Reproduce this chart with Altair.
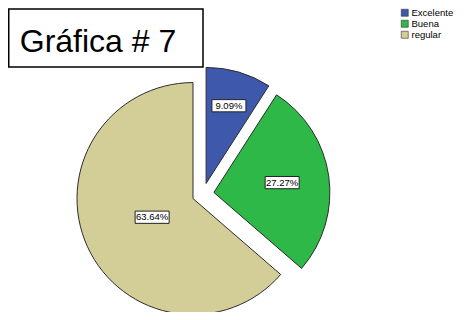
import math
import altair as alt
import pandas as pd

categories = ["Excelente", "Buena", "regular"]
percents = [9.09, 27.27, 63.64]
labels = ["9.09%", "27.27%", "63.64%"]
colors = ["#3E58AC", "#2EB848", "#D3CE97"]
title_text = ["Gráfica # 7"]

df = pd.DataFrame({"cat": categories, "pct": percents, "label": labels,
                   "order": list(range(len(categories)))})

CX, CY = 195.0, 186.0   # pie center (px)
R = 116                 # radius
D = 11                  # explode distance

base = alt.Chart(df).transform_window(
    cum="sum(pct)", sort=[alt.SortField("order")], frame=[None, 0]
).transform_joinaggregate(
    tot="sum(pct)"
).transform_calculate(
    a0="(datum.cum - datum.pct) / datum.tot * 2 * PI",
    a1="datum.cum / datum.tot * 2 * PI",
).transform_calculate(
    mid="(datum.a0 + datum.a1) / 2",
    share="datum.pct / datum.tot",
).transform_calculate(
    px=f"{CX} + {D} * sin(datum.mid)",
    py=f"{CY} - {D} * cos(datum.mid)",
).transform_calculate(
    lx=f"datum.px + (0.75 - 0.57 * datum.share) * {R} * sin(datum.mid)",
    ly=f"datum.py - (0.75 - 0.57 * datum.share) * {R} * cos(datum.mid)",
)

color = alt.Color(
    "cat:N",
    scale=alt.Scale(domain=categories, range=colors),
    legend=alt.Legend(
        title=None, orient="none", legendX=392, legendY=0,
        symbolType="square", symbolSize=49, symbolStrokeColor="#333333",
        symbolStrokeWidth=0.6, labelFontSize=9.5, labelFont="Liberation Sans",
        labelColor="#000000", rowPadding=0, labelOffset=2, padding=0,
        labelLimit=0,
    ),
)

arcs = base.mark_arc(radius=R, stroke="#2b2b2b", strokeWidth=1).encode(
    theta=alt.Theta("a0:Q", scale=None),
    theta2="a1:Q",
    x=alt.X("px:Q", scale=None, axis=None),
    y=alt.Y("py:Q", scale=None, axis=None),
    color=color,
)

boxes = base.mark_point(
    shape="M-1,-0.36L1,-0.36L1,0.36L-1,0.36Z", size=34 * 34, filled=True,
    fill="white", stroke="#222222", strokeWidth=1, opacity=1,
).encode(
    x=alt.X("lx:Q", scale=None, axis=None),
    y=alt.Y("ly:Q", scale=None, axis=None),
)

texts = base.mark_text(fontSize=9.5, font="Liberation Sans", color="#000000",
                       align="center", baseline="middle").encode(
    x=alt.X("lx:Q", scale=None, axis=None),
    y=alt.Y("ly:Q", scale=None, axis=None),
    text="label:N",
)

tdf = pd.DataFrame({"t": title_text})
title_box = alt.Chart(tdf).mark_rect(fill="white", stroke="#000000", strokeWidth=1.5).encode(
    x=alt.value(0.75), x2=alt.value(195), y=alt.value(1), y2=alt.value(59)
)
title_txt = alt.Chart(tdf).mark_text(fontSize=32, font="Liberation Sans", color="#000000",
                                     align="center", baseline="alphabetic").encode(
    x=alt.value(90), y=alt.value(44), text="t:N"
)

chart = alt.layer(arcs, boxes, texts, title_box, title_txt).properties(
    width=450, height=304, padding=0,
    autosize=alt.AutoSizeParams(type="none"),
).configure(background="white", view=alt.ViewConfig(stroke=None))

chart.save("out.html", embed_options={"renderer": "svg", "actions": False})
